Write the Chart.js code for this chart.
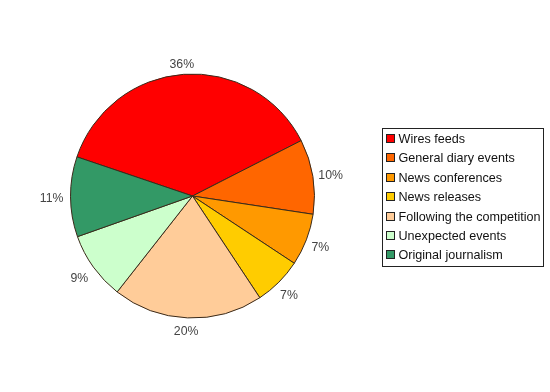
<!DOCTYPE html>
<html>
<head>
<meta charset="utf-8">
<script src="https://cdn.jsdelivr.net/npm/chart.js@4/dist/chart.umd.min.js"></script>
<style>
html,body{margin:0;padding:0;background:#fff;}
#wrap{width:550px;height:392px;position:relative;}
</style>
</head>
<body>
<div id="wrap"><canvas id="c" width="550" height="392"></canvas></div>
<script>
const categories = ["Wires feeds","General diary events","News conferences","News releases","Following the competition","Unexpected events","Original journalism"];
const shares = [37.3, 9.9, 6.9, 6.4, 19.9, 9.0, 10.6];
const shareLabels = ["36%","10%","7%","7%","20%","9%","11%"];
const sliceColors = ["#FF0000","#FF6600","#FF9900","#FFCC00","#FFCC99","#CCFFCC","#339966"];

const pctLabels = {
  id: 'pctLabels',
  afterDatasetsDraw(chart) {
    const ctx = chart.ctx;
    const meta = chart.getDatasetMeta(0);
    ctx.save();
    ctx.font = '12.3px "Liberation Sans", Arial, sans-serif';
    ctx.fillStyle = '#444';
    ctx.textAlign = 'center';
    ctx.textBaseline = 'middle';
    meta.data.forEach((arc, i) => {
      const p = arc.getProps(['x','y','startAngle','endAngle','outerRadius'], true);
      const mid = (p.startAngle + p.endAngle) / 2;
      const txt = shareLabels[i];
      const w = ctx.measureText(txt).width;
      const h = 10;
      const c = Math.cos(mid), s = Math.sin(mid);
      const r = p.outerRadius + 6 + Math.abs(c) * w / 2 + Math.abs(s) * h / 2;
      ctx.fillText(txt, p.x + r * c - 1, p.y + r * s + 2);
    });
    ctx.restore();
  }
};

const boxLegend = {
  id: 'boxLegend',
  afterDraw(chart) {
    const ctx = chart.ctx;
    ctx.save();
    const x0 = 382.5, y0 = 128.5, w = 161, h = 138;
    ctx.strokeStyle = '#222';
    ctx.lineWidth = 1;
    ctx.strokeRect(x0, y0, w, h);
    ctx.font = '12.6px "Liberation Sans", Arial, sans-serif';
    ctx.textBaseline = 'middle';
    ctx.textAlign = 'left';
    chart.data.labels.forEach((lab, i) => {
      const cy = 139 + i * 19.4;
      ctx.fillStyle = chart.data.datasets[0].backgroundColor[i];
      ctx.fillRect(387, Math.round(cy) - 4, 7, 7);
      ctx.strokeStyle = '#222';
      ctx.strokeRect(386.5, Math.round(cy) - 4.5, 8, 8);
      ctx.fillStyle = '#111';
      ctx.fillText(lab, 398.5, cy + 0.5);
    });
    ctx.restore();
  }
};

new Chart(document.getElementById('c'), {
  type: 'pie',
  data: {
    labels: categories,
    datasets: [{
      data: shares,
      backgroundColor: sliceColors,
      borderColor: '#3a2a1a',
      borderWidth: 1
    }]
  },
  options: {
    responsive: false,
    animation: false,
    rotation: -71.3,
    radius: 122,
    layout: { padding: { left: 10, right: 175, top: 10, bottom: 10 } },
    plugins: {
      legend: { display: false },
      tooltip: { enabled: false }
    }
  },
  plugins: [pctLabels, boxLegend]
});
</script>
</body>
</html>
